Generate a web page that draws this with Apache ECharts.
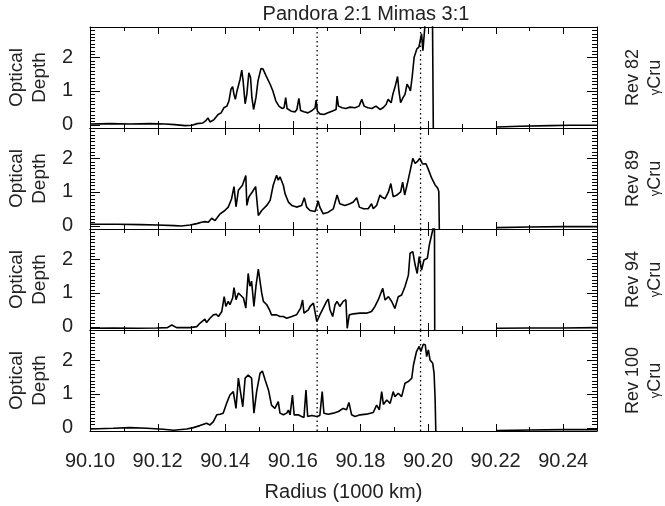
<!DOCTYPE html>
<html>
<head>
<meta charset="utf-8">
<script src="https://cdn.jsdelivr.net/npm/echarts@6/dist/echarts.min.js"></script>
<style>html,body{margin:0;padding:0;background:#fff;}#c{width:665px;height:506px;}</style>
</head>
<body>
<div id="c"></div>
<script>
// ---- data (radius in 1000 km, optical depth) ----
const titleText = 'Pandora 2:1 Mimas 3:1';
const xTickLabels = ['90.10','90.12','90.14','90.16','90.18','90.20','90.22','90.24'];
const yTickValues = [0, 1, 2];
const resonances = [90.1672, 90.1978];
const revLabels = ['Rev 82', 'Rev 89', 'Rev 94', 'Rev 100'];

const rev82 = [[90.1000,0.02],[90.1059,0.03],[90.1118,0.02],[90.1178,0.03],[90.1222,0.02],[90.1251,0.0],[90.1281,-0.03],[90.1302,-0.02],[90.1317,0.03],[90.1334,0.05],[90.1343,0.12],[90.1349,0.2],[90.1355,0.08],[90.1367,0.15],[90.1379,0.3],[90.1388,0.35],[90.1396,0.5],[90.1405,0.55],[90.1411,0.7],[90.1417,1.05],[90.1422,1.13],[90.1426,0.9],[90.1430,0.75],[90.1435,1.0],[90.1444,1.35],[90.1449,1.62],[90.1453,1.3],[90.1459,0.62],[90.1464,0.9],[90.1470,1.54],[90.1475,1.4],[90.1479,0.8],[90.1484,0.45],[90.1491,0.8],[90.1497,1.3],[90.1506,1.67],[90.1512,1.65],[90.1521,1.45],[90.1533,1.2],[90.1541,1.0],[90.1550,0.7],[90.1559,0.55],[90.1568,0.48],[90.1574,0.5],[90.1579,0.8],[90.1583,0.48],[90.1595,0.4],[90.1607,0.38],[90.1612,0.45],[90.1618,0.78],[90.1623,0.42],[90.1633,0.38],[90.1645,0.35],[90.1657,0.42],[90.1666,0.5],[90.1669,0.73],[90.1673,0.4],[90.1680,0.32],[90.1692,0.3],[90.1704,0.35],[90.1716,0.4],[90.1728,0.45],[90.1731,0.85],[90.1735,0.55],[90.1746,0.5],[90.1757,0.48],[90.1769,0.52],[90.1784,0.5],[90.1796,0.55],[90.1804,0.75],[90.1811,0.55],[90.1822,0.5],[90.1834,0.48],[90.1846,0.55],[90.1858,0.45],[90.1867,0.5],[90.1876,0.6],[90.1882,0.75],[90.1891,0.65],[90.1896,0.9],[90.1902,1.1],[90.1910,1.43],[90.1914,1.0],[90.1919,0.65],[90.1926,0.8],[90.1932,0.9],[90.1938,1.2],[90.1944,1.1],[90.1948,1.0],[90.1953,1.4],[90.1959,2.0],[90.1967,2.25],[90.1973,2.3],[90.1981,2.7],[90.1985,2.2],[90.1991,2.95],[90.1997,3.3],[90.2006,3.5],[90.2013,3.5],[90.2016,-0.5],[90.2100,null],[90.2204,-0.07],[90.2272,-0.05],[90.2361,-0.03],[90.2420,-0.02],[90.2500,-0.02]];

const rev89 = [[90.1000,0.04],[90.1080,0.04],[90.1150,0.03],[90.1200,0.02],[90.1250,0.0],[90.1270,-0.01],[90.1296,0.02],[90.1316,0.06],[90.1330,0.1],[90.1340,0.12],[90.1350,0.1],[90.1360,0.22],[90.1370,0.15],[90.1385,0.35],[90.1399,0.45],[90.1409,0.55],[90.1419,0.8],[90.1426,1.16],[90.1432,0.56],[90.1439,1.05],[90.1444,1.0],[90.1451,1.2],[90.1461,1.49],[90.1464,0.6],[90.1470,0.85],[90.1480,1.0],[90.1490,1.16],[90.1498,0.3],[90.1508,0.45],[90.1523,0.6],[90.1533,0.75],[90.1542,1.2],[90.1552,1.5],[90.1557,1.35],[90.1562,1.45],[90.1572,1.2],[90.1577,0.95],[90.1587,0.7],[90.1597,0.6],[90.1611,0.55],[90.1626,0.6],[90.1634,0.83],[90.1641,0.55],[90.1651,0.45],[90.1666,0.42],[90.1675,0.73],[90.1680,0.55],[90.1690,0.35],[90.1705,0.4],[90.1720,0.5],[90.1731,0.91],[90.1739,0.65],[90.1754,0.6],[90.1769,0.65],[90.1779,0.7],[90.1789,0.83],[90.1797,0.55],[90.1809,0.5],[90.1823,0.5],[90.1833,0.65],[90.1838,0.5],[90.1848,0.6],[90.1858,0.91],[90.1863,0.85],[90.1873,0.8],[90.1883,1.0],[90.1890,1.25],[90.1897,0.86],[90.1907,0.9],[90.1919,1.0],[90.1925,1.29],[90.1931,0.91],[90.1939,1.25],[90.1947,1.62],[90.1955,2.0],[90.1962,1.85],[90.1968,1.9],[90.1976,2.0],[90.1984,1.83],[90.1994,1.84],[90.2001,1.67],[90.2011,1.41],[90.2021,1.21],[90.2029,1.11],[90.2032,1.01],[90.2034,-0.5],[90.2100,null],[90.2203,-0.06],[90.2300,-0.04],[90.2400,-0.03],[90.2500,-0.03]];

const rev94 = [[90.1000,-0.05],[90.1069,-0.04],[90.1138,-0.05],[90.1197,-0.04],[90.1229,-0.03],[90.1242,0.05],[90.1256,-0.03],[90.1296,-0.03],[90.1316,0.0],[90.1325,0.1],[90.1340,0.22],[90.1345,0.12],[90.1355,0.25],[90.1365,0.35],[90.1373,0.37],[90.1380,0.3],[90.1390,0.45],[90.1397,0.89],[90.1402,0.6],[90.1409,0.75],[90.1414,0.65],[90.1422,0.85],[90.1426,1.16],[90.1432,0.8],[90.1439,1.0],[90.1444,0.95],[90.1454,0.85],[90.1461,0.55],[90.1468,1.58],[90.1473,1.2],[90.1478,1.35],[90.1485,0.6],[90.1491,1.2],[90.1498,1.71],[90.1503,1.35],[90.1508,1.0],[90.1513,0.75],[90.1523,0.65],[90.1531,0.5],[90.1537,0.35],[90.1552,0.35],[90.1562,0.3],[90.1572,0.3],[90.1582,0.25],[90.1597,0.3],[90.1611,0.35],[90.1623,0.55],[90.1629,0.79],[90.1633,0.4],[90.1646,0.5],[90.1651,0.6],[90.1661,0.7],[90.1671,0.15],[90.1680,0.35],[90.1690,0.55],[90.1700,0.75],[90.1705,0.82],[90.1710,0.5],[90.1718,0.3],[90.1725,0.65],[90.1731,0.75],[90.1739,0.6],[90.1749,0.75],[90.1757,0.8],[90.1761,-0.05],[90.1767,0.35],[90.1779,0.38],[90.1799,0.4],[90.1818,0.4],[90.1833,0.45],[90.1843,0.6],[90.1853,0.8],[90.1866,1.14],[90.1873,0.79],[90.1883,0.89],[90.1893,0.74],[90.1902,0.54],[90.1912,0.89],[90.1922,0.94],[90.1932,1.19],[90.1942,1.53],[90.1947,2.18],[90.1955,2.23],[90.1962,1.83],[90.1968,1.58],[90.1974,2.08],[90.1981,1.68],[90.1988,1.98],[90.1998,2.03],[90.2004,2.43],[90.2009,2.48],[90.2014,2.87],[90.2017,3.3],[90.2019,3.5],[90.2020,-0.5],[90.2100,null],[90.2204,-0.05],[90.2300,-0.04],[90.2400,-0.04],[90.2500,-0.03]];

const rev100 = [[90.1000,-0.04],[90.1069,-0.02],[90.1118,0.0],[90.1168,-0.02],[90.1217,-0.05],[90.1247,-0.08],[90.1286,-0.04],[90.1306,0.0],[90.1325,0.06],[90.1345,0.13],[90.1355,0.08],[90.1365,0.18],[90.1375,0.38],[90.1385,0.4],[90.1394,0.43],[90.1404,0.72],[90.1414,0.97],[90.1424,1.07],[90.1432,0.57],[90.1439,1.47],[90.1444,1.49],[90.1452,0.62],[90.1459,1.47],[90.1468,1.56],[90.1478,1.47],[90.1485,0.43],[90.1493,1.07],[90.1503,1.61],[90.1510,1.68],[90.1518,1.42],[90.1528,1.12],[90.1537,0.67],[90.1547,0.57],[90.1557,0.77],[90.1562,0.43],[90.1572,0.38],[90.1582,0.43],[90.1587,0.52],[90.1592,0.38],[90.1599,0.97],[90.1604,0.38],[90.1616,0.38],[90.1626,0.33],[90.1633,0.3],[90.1639,1.12],[90.1644,0.33],[90.1656,0.36],[90.1671,0.33],[90.1680,0.36],[90.1687,1.07],[90.1692,0.43],[90.1705,0.4],[90.1720,0.43],[90.1735,0.48],[90.1749,0.57],[90.1759,0.53],[90.1766,0.75],[90.1774,0.38],[90.1784,0.33],[90.1799,0.38],[90.1818,0.4],[90.1838,0.45],[90.1848,0.67],[90.1856,0.53],[90.1863,1.07],[90.1868,0.69],[90.1878,0.82],[90.1888,0.72],[90.1897,1.07],[90.1902,0.92],[90.1912,1.02],[90.1922,0.92],[90.1932,1.32],[90.1942,1.37],[90.1952,1.47],[90.1957,1.86],[90.1966,2.26],[90.1974,2.41],[90.1979,2.26],[90.1986,2.48],[90.1992,2.46],[90.1996,2.11],[90.2001,2.31],[90.2006,2.01],[90.2014,1.91],[90.2018,1.61],[90.2021,0.87],[90.2024,-0.5],[90.2100,null],[90.2203,-0.09],[90.2300,-0.07],[90.2400,-0.06],[90.2500,-0.06]];

const panels = [rev82, rev89, rev94, rev100];

// ---- layout / style ----
const FONT = '"Liberation Sans", Arial, Helvetica, sans-serif';
const TXT = '#222';
const L = 90, W = 507, TOP = 27, H = 101;
const X_MIN = 90.10, X_MAX = 90.25, Y_MIN = -0.1, Y_MAX = 2.9;

// tick positions (axis values): [value, kind(0 = x, 1 = y), length px]
const tickItems = [];
for (let k = 1; k <= 14; k++) tickItems.push([Math.round((X_MIN + k * 0.01) * 1e4) / 1e4, 0, k % 2 === 0 ? 7 : 4]);
for (let k = 1; k <= 29; k++) {
  const v = Math.round((Y_MIN + k * 0.1) * 10) / 10;
  tickItems.push([v, 1, (Math.abs(v - Math.round(v)) < 1e-6) ? 10 : 5]);
}

const grid = [], xAxis = [], yAxis = [], series = [], graphic = [];
panels.forEach((d, i) => {
  grid.push({left: L, width: W, top: TOP + i * H, height: H, show: false});
  const xBase = {
    gridIndex: i, type: 'value', min: X_MIN, max: X_MAX, interval: 0.02,
    axisLine: {show: true, onZero: false, lineStyle: {color: '#000', width: 1}},
    axisTick: {show: false}, minorTick: {show: false},
    splitLine: {show: false}
  };
  xAxis.push(Object.assign({}, xBase, {
    position: 'bottom',
    axisLabel: {show: i === 3, margin: 20, fontSize: 20, fontFamily: FONT, color: TXT,
      showMaxLabel: false, formatter: v => xTickLabels[Math.round((v - X_MIN) / 0.02)] || ''}
  }));
  xAxis.push(Object.assign({}, xBase, {position: 'top', axisLabel: {show: false}}));
  const yBase = {
    gridIndex: i, type: 'value', min: Y_MIN, max: Y_MAX,
    axisLine: {show: true, onZero: false, lineStyle: {color: '#000', width: 1}},
    axisTick: {show: false}, splitLine: {show: false}
  };
  yAxis.push(Object.assign({}, yBase, {position: 'left',
    axisLabel: {show: true, margin: 17, customValues: yTickValues, fontSize: 20, fontFamily: FONT, color: TXT}
  }));
  yAxis.push(Object.assign({}, yBase, {position: 'right', axisLabel: {show: false}}));
  series.push({
    type: 'line', xAxisIndex: 2 * i, yAxisIndex: 2 * i,
    data: d.map(p => [p[0], p[1] === null ? '-' : p[1]]),
    showSymbol: false, symbol: 'none', clip: true, connectNulls: false,
    lineStyle: {color: '#000', width: 1.6}, animation: false, z: 3
  });
  resonances.forEach(r => {
    series.push({
      type: 'line', xAxisIndex: 2 * i, yAxisIndex: 2 * i,
      data: [[r, Y_MIN], [r, Y_MAX]],
      showSymbol: false, symbol: 'none', animation: false, silent: true, z: 2,
      lineStyle: {color: '#000', width: 1.3, type: [1.5, 3]}
    });
  });
  const cy = TOP + i * H + H / 2;
  graphic.push({type: 'text', x: 28.5, y: cy, rotation: Math.PI / 2, silent: true,
    style: {text: 'Optical\nDepth', fontSize: 19, fontFamily: FONT, fill: TXT, lineHeight: 23,
      textAlign: 'center', textVerticalAlign: 'middle', align: 'center', verticalAlign: 'middle'}});
  graphic.push({type: 'text', x: 644, y: cy, rotation: Math.PI / 2, silent: true,
    style: {text: revLabels[i] + '\n{g|γ}Cru', fontSize: 18, fontFamily: FONT, fill: TXT, lineHeight: 22,
      rich: {g: {fontSize: 13, fontFamily: FONT, fill: TXT}},
      textAlign: 'center', textVerticalAlign: 'middle', align: 'center', verticalAlign: 'middle'}});
});

graphic.push({type: 'text', x: 366, y: 14, silent: true,
  style: {text: titleText, fontSize: 20, fontFamily: FONT, fill: TXT,
    textAlign: 'center', textVerticalAlign: 'middle', align: 'center', verticalAlign: 'middle'}});
graphic.push({type: 'text', x: 343.5, y: 492, silent: true,
  style: {text: 'Radius (1000 km)', fontSize: 20, fontFamily: FONT, fill: TXT,
    textAlign: 'center', textVerticalAlign: 'middle', align: 'center', verticalAlign: 'middle'}});

const chart = echarts.init(document.getElementById('c'), null, {renderer: 'canvas'});
chart.setOption({animation: false, backgroundColor: '#fff', grid, xAxis, yAxis, series, graphic});

// ticks: positioned through the grid's own scales
const tickShapes = [];
panels.forEach((d, i) => {
  const finder = {xAxisIndex: 2 * i, yAxisIndex: 2 * i};
  tickItems.forEach(([v, kind, len]) => {
    if (kind === 0) {
      const b = chart.convertToPixel(finder, [v, Y_MIN]);
      const t = chart.convertToPixel(finder, [v, Y_MAX]);
      const x = Math.round(b[0]) + 0.5;
      tickShapes.push({type: 'line', silent: true, z: 10, shape: {x1: x, y1: b[1], x2: x, y2: b[1] - len}, style: {stroke: '#000', lineWidth: 1}});
      tickShapes.push({type: 'line', silent: true, z: 10, shape: {x1: x, y1: t[1], x2: x, y2: t[1] + len}, style: {stroke: '#000', lineWidth: 1}});
    } else {
      const l = chart.convertToPixel(finder, [X_MIN, v]);
      const r = chart.convertToPixel(finder, [X_MAX, v]);
      const y = Math.round(l[1]) + 0.5;
      tickShapes.push({type: 'line', silent: true, z: 10, shape: {x1: l[0], y1: y, x2: l[0] + len, y2: y}, style: {stroke: '#000', lineWidth: 1}});
      tickShapes.push({type: 'line', silent: true, z: 10, shape: {x1: r[0], y1: y, x2: r[0] - len, y2: y}, style: {stroke: '#000', lineWidth: 1}});
    }
  });
});
chart.setOption({graphic: graphic.concat(tickShapes)});
</script>
</body>
</html>
